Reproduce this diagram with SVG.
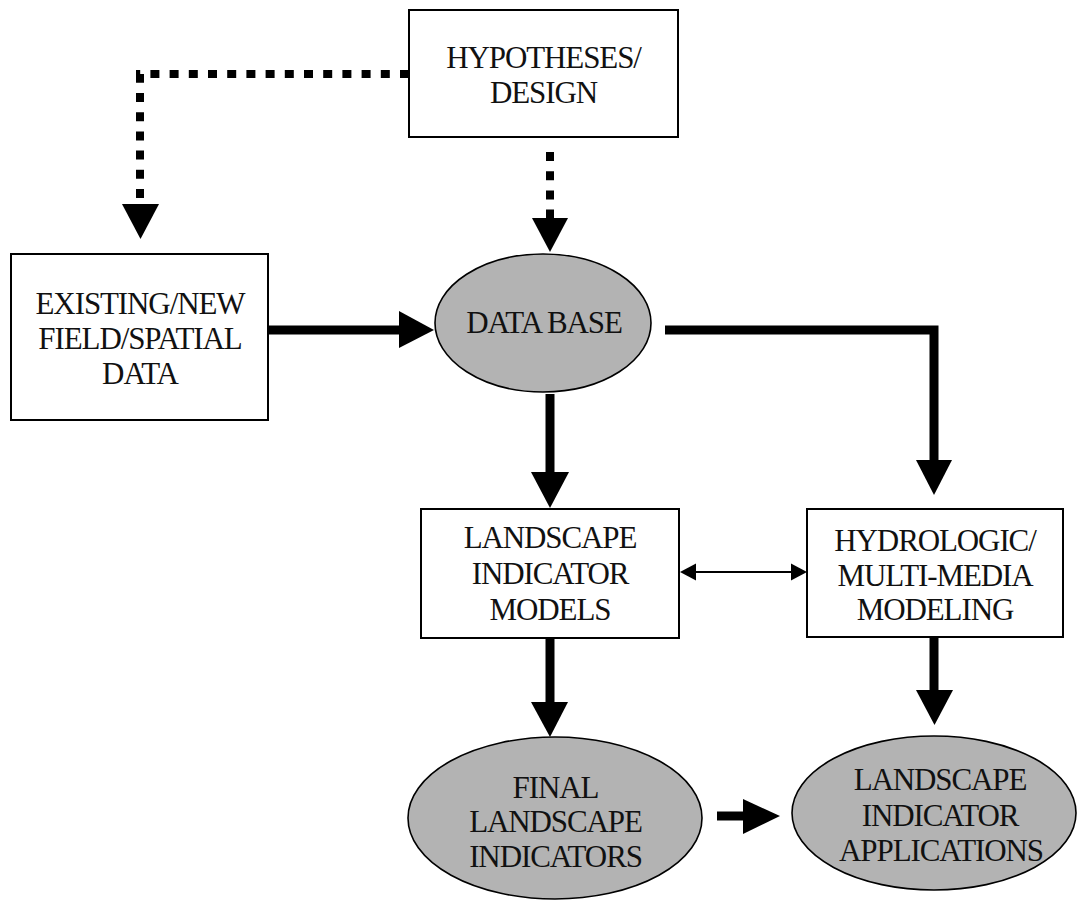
<svg xmlns="http://www.w3.org/2000/svg" width="1078" height="903" viewBox="0 0 1078 903">
<style>
.box{fill:#fff;stroke:#000;stroke-width:2}
.ell{fill:#b3b3b3;stroke:#000;stroke-width:1.6}
.t{font-family:"Liberation Serif","Times New Roman",serif;font-size:31px;letter-spacing:-1.1px;fill:#111;text-anchor:middle}
.thick{fill:none;stroke:#000;stroke-width:9}
.dot{fill:none;stroke:#000;stroke-width:8;stroke-dasharray:9 10.2}
.thin{fill:none;stroke:#000;stroke-width:2}
.head{fill:#000}
</style>
<rect width="1078" height="903" fill="#fff"/>
<g id="connectors">
<path class="dot" d="M409,74 H140 V205"/>
<polygon class="head" points="122,204 159,204 140.5,239"/>
<path class="dot" d="M550,152 V218"/>
<polygon class="head" points="532,218 568,218 550,252"/>
<path class="thick" d="M268,330 H400"/>
<polygon class="head" points="399,311 399,348 434,330"/>
<path class="thick" d="M665,330 H934 V461" stroke-width="8"/>
<polygon class="head" points="916,460 952,460 934,495"/>
<path class="thick" d="M550,394 V473" stroke-width="10"/>
<polygon class="head" points="531,472 569,472 550,508"/>
<path class="thin" d="M690,572 H797"/>
<polygon class="head" points="680,572 696,563.5 696,580.5"/>
<polygon class="head" points="807,572 791,563.5 791,580.5"/>
<path class="thick" d="M550,638 V703" stroke-width="10"/>
<polygon class="head" points="531,702 568,702 550,737"/>
<path class="thick" d="M934,637 V691" stroke-width="9"/>
<polygon class="head" points="916,690 953,690 934.5,725"/>
<path class="thick" d="M717,816 H744" stroke-width="10"/>
<polygon class="head" points="743,799 743,834 780,816"/>
</g>
<g id="hypotheses">
<rect class="box" x="409" y="10" width="269" height="127"/>
<text class="t" x="543.5" y="68">HYPOTHESES/</text>
<text class="t" x="543.5" y="103">DESIGN</text>
</g>
<g id="existing">
<rect class="box" x="11" y="254" width="257" height="166"/>
<text class="t" x="140" y="314">EXISTING/NEW</text>
<text class="t" x="140" y="349">FIELD/SPATIAL</text>
<text class="t" x="140" y="384">DATA</text>
</g>
<g id="database">
<ellipse class="ell" cx="543" cy="323" rx="108" ry="69"/>
<text class="t" x="544" y="333">DATA BASE</text>
</g>
<g id="landscape-models">
<rect class="box" x="421" y="509" width="258" height="129"/>
<text class="t" x="550" y="548">LANDSCAPE</text>
<text class="t" x="550" y="584">INDICATOR</text>
<text class="t" x="550" y="620">MODELS</text>
</g>
<g id="hydrologic">
<rect class="box" x="807" y="509" width="256" height="128"/>
<text class="t" x="935" y="551">HYDROLOGIC/</text>
<text class="t" x="935" y="586">MULTI-MEDIA</text>
<text class="t" x="935" y="620">MODELING</text>
</g>
<g id="final">
<ellipse class="ell" cx="555" cy="818" rx="147" ry="81"/>
<text class="t" x="555.5" y="798">FINAL</text>
<text class="t" x="555.5" y="832">LANDSCAPE</text>
<text class="t" x="555.5" y="867">INDICATORS</text>
</g>
<g id="applications">
<ellipse class="ell" cx="934" cy="813" rx="142" ry="77"/>
<text class="t" x="940" y="790">LANDSCAPE</text>
<text class="t" x="940" y="826">INDICATOR</text>
<text class="t" x="941" y="861">APPLICATIONS</text>
</g>
</svg>
